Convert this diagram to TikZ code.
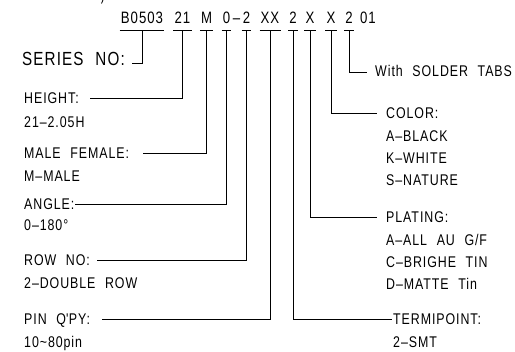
\documentclass[tikz,border=0pt]{standalone}
\usepackage{fontspec}
\setmainfont{Liberation Sans}[LetterSpace=5,WordSpace=2]
\newfontfamily\labfont{Liberation Sans}[FakeStretch=0.8,LetterSpace=6,WordSpace=2.2]
\begin{document}
\begin{tikzpicture}[x=1pt,y=-1pt,
  lab/.style={anchor=base west,inner sep=0pt,font=\labfont\fontsize{15.5}{17}\selectfont},
  code/.style={anchor=base,inner sep=0pt,text depth=6.5pt,font=\labfont\fontsize{16.5}{18}\selectfont},
  ln/.style={line width=0.8pt,black}]
\useasboundingbox (0,0) rectangle (515,352);
% top code
\node[code] (c1) at (142,23.5) {B0503};
\node[code] (c2) at (182.5,23.5) {21};
\node[code] (c3) at (206.5,23.5) {M};
\node[code] (c4) at (226.5,23.5) {0};
\node[code] (cd) at (236.5,23.5) {–};
\node[code] (c5) at (246.5,23.5) {2};
\node[code] (c6) at (270,23.5) {XX};
\node[code] (c7) at (293,23.5) {2};
\node[code] (c8) at (310,23.5) {X};
\node[code] (c9) at (331,23.5) {X};
\node[code] (c10) at (349,23.5) {2};
\node[code] (c11) at (368,23.5) {01};
\foreach \n in {c1,c2,c3,c4,c5,c6,c7,c8,c9,c10}
  \draw[ln] ([xshift=-1pt]\n.south west) -- ([xshift=1pt]\n.south east);
\draw[ln] (101.5,3.5) -- (103,0);
% left labels
\node[lab,font=\labfont\fontsize{19}{21}\selectfont] (series) at (22,66) {SERIES NO:};
\node[lab] (height) at (24,103.5) {HEIGHT:};
\node[lab] at (24,127.5) {21–2.05H};
\node[lab] (male) at (24,158.5) {MALE FEMALE:};
\node[lab] at (24,181.5) {M–MALE};
\node[lab] (angle) at (24,209.5) {ANGLE:};
\node[lab] at (24,230.5) {0–180°};
\node[lab] (row) at (24,265.5) {ROW NO:};
\node[lab] at (24,288.5) {2–DOUBLE ROW};
\node[lab] (pin) at (24,324.5) {PIN Q\textquotesingle PY:};
\node[lab] at (24,347.5) {10\textasciitilde 80pin};
% right labels
\node[lab] (tabs) at (375,77) {With SOLDER TABS};
\node[lab] (color) at (386,118.5) {COLOR:};
\node[lab] at (386,141.5) {A–BLACK};
\node[lab] at (386,163.5) {K–WHITE};
\node[lab] at (386,185.5) {S–NATURE};
\node[lab] (plating) at (386,222.5) {PLATING:};
\node[lab] at (386,245.5) {A–ALL AU G/F};
\node[lab] at (386,267.5) {C–BRIGHE TIN};
\node[lab] at (386,289.5) {D–MATTE Tin};
\node[lab] (termi) at (393,324.5) {TERMIPOINT:};
\node[lab] at (393,347.5) {2–SMT};
% connector ends
\coordinate (e1) at (132,63);
\coordinate (e2) at (90,98);
\coordinate (e3) at (143,153);
\coordinate (e4) at (75,204);
\coordinate (e5) at (97,260);
\coordinate (e6) at (102,319);
\coordinate (e7) at (392,319);
\coordinate (e8) at (377,217);
\coordinate (e9) at (377,113);
\coordinate (e10) at (367,72);
% connectors
\draw[ln] (c1.south) |- (e1);
\draw[ln] (c2.south) |- (e2);
\draw[ln] (c3.south) |- (e3);
\draw[ln] (c4.south) |- (e4);
\draw[ln] (c5.south) |- (e5);
\draw[ln] (c6.south) |- (e6);
\draw[ln] (c7.south) |- (e7);
\draw[ln] (c8.south) |- (e8);
\draw[ln] (c9.south) |- (e9);
\draw[ln] (c10.south) |- (e10);
\end{tikzpicture}
\end{document}
